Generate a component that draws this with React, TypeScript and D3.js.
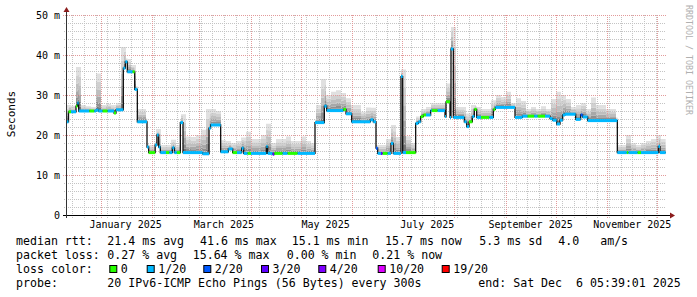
import React from 'react';
import * as d3 from 'd3';

const START = new Date(2024, 11, 11, 5, 39, 1);
const END = new Date(2025, 11, 6, 5, 39, 1);
const DAY_MS = 86400000;
const DATA_END_DAY = 359.8;

// median rtt steps: start day (offset from START), value in ms, loss bucket index
const stepDays = [0, 1.5, 3, 6, 6.8, 7.6, 14, 17, 18, 19.5, 22, 25, 28.8, 30, 34.4, 35.6, 36.8, 40, 41.2, 42.8,
  48.6, 49.6, 53.5, 54.6, 55.6, 56.6, 60, 62, 63.8, 65, 66.5, 68.6, 70.2, 82, 85.8, 86.8, 92.8, 97.4, 100, 102.6,
  105.4, 106.6, 109, 111, 120.2, 121, 124, 125, 130, 133, 139, 149.4, 155, 156.4, 166.4, 168, 171.4, 182.6, 184.4, 186,
  187, 189, 190, 193, 195, 196.4, 201, 202, 204, 209.8, 211.4, 212.8, 214.4, 216, 218.8, 219.5, 223, 227.4, 228, 230.4,
  231, 232.4, 239, 240.4, 241.8, 243.8, 245, 246.4, 249, 254, 256.4, 257.6, 269.4, 273.8, 277, 281, 283, 287.4, 290.4, 292,
  294.4, 296.4, 298, 299.4, 305.8, 308.8, 310, 313, 330.8, 336.5, 337.5, 343, 345, 355.4, 356.4];
const medianMs = [23.3, 25.8, 25.8, 27.2, 28, 26, 26, 26, 26.2, 26, 26, 26, 25.5, 26.3, 36.7, 38.3, 35.8, 35.8, 31.4, 23.3,
  17, 15.6, 17.5, 20, 17, 15.6, 15.6, 15.6, 16.8, 15.6, 15.6, 23.1, 15.6, 15.3, 21.7, 22.5, 15.8, 16.5, 15.6, 15.6,
  16.7, 15.4, 15.4, 15.4, 17.1, 15.4, 15.2, 15.4, 15.4, 15.4, 15.4, 23.1, 27.2, 26.1, 26.4, 25.3, 23.3, 23.8, 23.3, 16.7,
  15.4, 15.4, 15.4, 15.4, 17.9, 15.4, 34.6, 15.6, 15.6, 22.9, 23.3, 24.6, 25, 25, 26.1, 26.1, 26.1, 24.6, 28.3, 24.4,
  41.5, 24.4, 23.3, 22.1, 23.3, 24.6, 26.4, 24.4, 24.4, 24.4, 26.4, 26.9, 24.4, 24.7, 24.7, 24.7, 24.7, 24.7, 24.1, 23.7,
  22.75, 23.7, 25, 25.2, 23.9, 25, 24.5, 23.6, 15.6, 15.6, 15.6, 15.6, 15.6, 17.1, 15.6];
const lossIdx = [1, 0, 1, 0, 1, 1, 0, 1, 1, 1, 0, 1, 0, 1, 1, 1, 1, 0, 1, 1,
  1, 0, 1, 1, 1, 1, 0, 1, 1, 1, 0, 1, 1, 1, 1, 1, 1, 1, 0, 1,
  1, 1, 0, 1, 1, 1, 3, 0, 1, 0, 1, 1, 1, 1, 0, 1, 1, 1, 1, 2,
  1, 3, 0, 1, 1, 1, 1, 1, 0, 1, 1, 0, 0, 1, 1, 0, 1, 1, 0, 1,
  1, 1, 1, 1, 0, 1, 0, 1, 0, 1, 0, 1, 1, 1, 0, 1, 0, 1, 1, 1,
  1, 1, 1, 1, 1, 2, 1, 1, 1, 0, 1, 0, 1, 1, 1];

// highest ping per 3-day bin (ms)
const SMOKE_BIN_DAYS = 3;
const smokeTopMs = [27.5, 27.3, 37, 27.5, 27.2, 27, 35.4, 27.5, 27.8, 27.5,
  28, 42, 39, 37.5, 26.5, 26.5, 17.5, 17.5, 21.5, 17.5,
  17.5, 18.8, 17.5, 25.2, 19.6, 19.5, 20, 21.3, 26.5, 26.5,
  26, 18.7, 18.5, 18, 18.5, 19.4, 20.8, 19, 19, 20,
  22.8, 18, 19, 19, 19.6, 18.5, 18.5, 19.6, 18.5, 18,
  27.5, 34, 30, 30.8, 31.2, 30.5, 29.2, 27.5, 27.5, 25.8,
  26.9, 26.8, 17.5, 17.5, 19, 22.5, 19.5, 36.4, 19.7, 18,
  24.6, 26.5, 27, 28, 28, 28, 32.9, 47, 27, 27,
  25.4, 27.5, 27, 26.5, 26.5, 28.7, 30, 29.5, 30.8, 28,
  29.2, 28.5, 26.5, 27, 26.5, 27.2, 26.5, 29, 30.8, 30,
  29, 27, 27.5, 28, 26.5, 29.4, 27.5, 27.5, 26.5, 26.5,
  17.5, 17.5, 20, 18, 17.5, 18, 18.5, 19, 20, 19];

const yTicks = [0, 10, 20, 30, 40, 50];
const yTickLabels = ['0', '10 m', '20 m', '30 m', '40 m', '50 m'];
const lossLabels = ['0', '1/20', '2/20', '3/20', '4/20', '10/20', '19/20'];
const lossColors = ['#26ff00', '#00b8ff', '#0059ff', '#5e00ff', '#7e00ff', '#dd00ff', '#ff0000'];

const legendRtt = ['median rtt:', '21.4 ms avg', '41.6 ms max', '15.1 ms min', '15.7 ms now', '5.3 ms sd', '4.0   am/s'];
const legendLoss = ['packet loss:', '0.27 % avg', '15.64 % max', '0.00 % min', '0.21 % now'];
const legendProbe = ['probe:', '20 IPv6-ICMP Echo Pings (56 Bytes) every 300s', 'end: Sat Dec  6 05:39:01 2025'];

const W = 697, H = 297;
const PL = 66, PR = 666, PT = 15, PB = 215;

const rttX = [16, 107.3, 200, 291.7, 385, 479.3, 558.3];
const lossX = [16, 107.3, 192.7, 286.7, 372.3];
const probeX = [16, 107.3, 478.3];
const boxX = [109.3, 146.7, 203.3, 261, 318.3, 377.7, 441.7];

const smokeEdges = [0, 0.1, 0.22, 0.38, 0.57, 0.78, 1];
const smokeColors = ['#747474', '#8f8f8f', '#a8a8a8', '#bebebe', '#d0d0d0', '#e0e0e0'];

export default function App() {
  const x = d3.scaleTime().domain([START, END]).range([PL, PR]);
  const y = d3.scaleLinear().domain([0, 50]).range([PB, PT]);
  const dx = (d: number) => x(new Date(START.getTime() + d * DAY_MS));

  const medianAt = (t: number) => {
    let i = 0;
    while (i + 1 < stepDays.length && stepDays[i + 1] <= t) i++;
    return medianMs[i];
  };

  const samples: { t: number; m: number; top: number }[] = [];
  for (let t = 0; t < DATA_END_DAY; t += 0.25) {
    const m = medianAt(t);
    const bin = Math.min(smokeTopMs.length - 1, Math.floor(t / SMOKE_BIN_DAYS));
    samples.push({ t, m, top: Math.max(smokeTopMs[bin], m + 0.8) });
  }
  const last = samples[samples.length - 1];
  samples.push({ t: DATA_END_DAY, m: last.m, top: last.top });

  const smokePaths = smokeColors.map((c, k) => {
    const area = d3.area<{ t: number; m: number; top: number }>()
      .x(s => dx(s.t))
      .y0(s => y(s.m + (s.top - s.m) * smokeEdges[k]))
      .y1(s => y(s.m + (s.top - s.m) * smokeEdges[k + 1]))
      .curve(d3.curveStepAfter);
    return <path key={k} d={area(samples) || ''} fill={c} />;
  });

  const medPts: [number, number][] = stepDays.map((d, i) => [dx(d), y(medianMs[i])]);
  medPts.push([dx(DATA_END_DAY), y(medianMs[medianMs.length - 1])]);
  const medLine = d3.line().curve(d3.curveStepAfter)(medPts) || '';

  const weekTicks = d3.timeSunday.range(START, END);
  const monthTicks = d3.timeMonth.range(d3.timeMonth.ceil(START), END);
  const labelMonths = monthTicks.filter(m => m.getMonth() % 2 === 0);
  const fmt = d3.timeFormat('%B %Y');

  const minorY: number[] = [];
  for (let v = 2; v < 50; v += 2) if (v % 10 !== 0) minorY.push(v);

  const mono = '"DejaVu Sans Mono", monospace';

  return (
    <svg width={W} height={H} style={{ display: 'block', position: 'absolute', left: 0, top: 0, background: '#fff' }}>
      <rect x={0} y={0} width={W} height={H} fill="#fff" />
      {smokePaths}
      <g stroke="#c4c4c4" strokeWidth={1} strokeDasharray="1,1">
        {weekTicks.map((t, i) => {
          const xx = Math.round(x(t)) + 0.5;
          return <line key={'w' + i} x1={xx} x2={xx} y1={PT} y2={PB + 3} />;
        })}
        {minorY.map(v => {
          const yy = Math.round(y(v)) + 0.5;
          return <line key={'my' + v} x1={PL - 2} x2={PR} y1={yy} y2={yy} />;
        })}
      </g>
      <g stroke="#e29a9a" strokeWidth={1} strokeDasharray="1,1">
        {monthTicks.map((t, i) => {
          const xx = Math.round(x(t)) + 0.5;
          return <line key={'m' + i} x1={xx} x2={xx} y1={PT} y2={PB + 3} />;
        })}
        {yTicks.filter(v => v > 0).map(v => {
          const yy = Math.round(y(v)) + 0.5;
          return <line key={'My' + v} x1={PL - 3} x2={PR} y1={yy} y2={yy} />;
        })}
      </g>
      <path d={medLine} fill="none" stroke="#111" strokeWidth={1.3} />
      {stepDays.map((d, i) => {
        const x1 = dx(d);
        const x2 = i + 1 < stepDays.length ? dx(stepDays[i + 1]) : dx(DATA_END_DAY);
        const yy = y(medianMs[i]);
        return <line key={'seg' + i} x1={x1} x2={x2} y1={yy} y2={yy} stroke={lossColors[lossIdx[i]]} strokeWidth={3} />;
      })}
      <line x1={PL - 3} x2={PR + 5} y1={PB + 0.5} y2={PB + 0.5} stroke="#000" />
      <line x1={PL + 0.5} x2={PL + 0.5} y1={PB + 3} y2={PT - 5} stroke="#333" />
      <path d={`M${PR + 4},${PB - 2.5} L${PR + 9},${PB + 0.5} L${PR + 4},${PB + 3.5} Z`} fill="#8b1c1c" />
      <path d={`M${PL - 2.5},${PT - 3} L${PL + 0.5},${PT - 8} L${PL + 3.5},${PT - 3} Z`} fill="#8b1c1c" />
      <g fontFamily={mono} fontSize={10} fill="#000" textAnchor="end">
        {yTicks.map((v, i) => (
          <text key={'yl' + v} x={60} y={y(v) + 3.5}>{yTickLabels[i]}</text>
        ))}
      </g>
      <g fontFamily={mono} fontSize={10} fill="#000" textAnchor="middle">
        {labelMonths.map((m, i) => (
          <text key={'xl' + i} x={x(d3.timeDay.offset(m, 15))} y={228}>{fmt(m)}</text>
        ))}
      </g>
      <text transform="translate(14.5,114) rotate(-90)" fontFamily={mono} fontSize={11} textAnchor="middle" fill="#000">Seconds</text>
      <text transform="translate(685.5,5) rotate(90)" fontFamily={mono} fontSize={8.3} fill="#b0b0b0">RRDTOOL / TOBI OETIKER</text>
      <g fontFamily={mono} fontSize={11.6} fill="#000" style={{ whiteSpace: 'pre' }}>
        {legendRtt.map((s, i) => <text key={'r' + i} x={rttX[i]} y={244.7} xmlSpace="preserve">{s}</text>)}
        {legendLoss.map((s, i) => <text key={'l' + i} x={lossX[i]} y={258.7} xmlSpace="preserve">{s}</text>)}
        <text x={16} y={272.7}>loss color:</text>
        {lossLabels.map((s, i) => (
          <g key={'b' + i}>
            <rect x={boxX[i] + 0.5} y={265.5} width={7} height={7} fill={lossColors[i]} stroke="#000" strokeWidth={1} />
            <text x={boxX[i] + 11.5} y={272.7}>{s}</text>
          </g>
        ))}
        {legendProbe.map((s, i) => <text key={'p' + i} x={probeX[i]} y={286.7} xmlSpace="preserve">{s}</text>)}
      </g>
    </svg>
  );
}
